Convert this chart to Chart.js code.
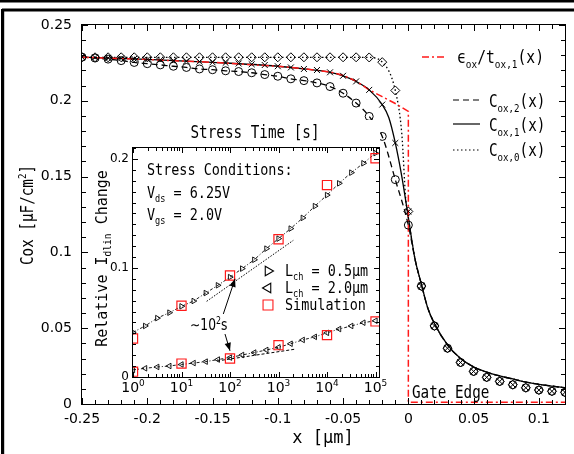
<!DOCTYPE html>
<html><head><meta charset="utf-8">
<script src="https://cdn.jsdelivr.net/npm/chart.js@4.4.1/dist/chart.umd.min.js"></script>
<style>
html,body{margin:0;padding:0;background:#fff;}
#wrap{position:relative;width:574px;height:454px;overflow:hidden;background:#fff;}
#main{position:absolute;left:0;top:0;}
#inset{position:absolute;left:90px;top:120px;}
</style></head><body>
<div id="wrap"><canvas id="main" width="574" height="454"></canvas><canvas id="inset" width="300" height="278"></canvas></div>
<script>
// ---------------- main chart data ----------------
const mainXTicks = [-0.25,-0.2,-0.15,-0.1,-0.05,0,0.05,0.1];
const mainYTicks = [0,0.05,0.1,0.15,0.2,0.25];

const markerX = [-0.25,-0.24,-0.23,-0.22,-0.21,-0.20,-0.19,-0.18,-0.17,-0.16,-0.15,-0.14,-0.13,-0.12,-0.11,-0.10,-0.09,-0.08,-0.07,-0.06,-0.05,-0.04,-0.03,-0.02,-0.01,0,
  0.01,0.02,0.03,0.04,0.05,0.06,0.07,0.08,0.09,0.10,0.11,0.12];
const c2Markers = [0.2288,0.2282,0.2275,0.2265,0.2253,0.2245,0.2237,0.2228,0.2220,0.2210,0.2205,0.2198,0.2193,0.2185,0.2173,0.2162,0.2145,0.2133,0.2118,0.2094,0.2050,0.1985,0.1897,0.1765,0.1480,0.1180,
  0.0778,0.0515,0.0368,0.0274,0.0215,0.0176,0.0149,0.0127,0.0107,0.0092,0.0084,0.0077];
const c1Markers = [0.2288,0.2286,0.2283,0.2280,0.2277,0.2273,0.2270,0.2266,0.2262,0.2258,0.2254,0.2250,0.2246,0.2241,0.2236,0.2228,0.2220,0.2210,0.2203,0.2188,0.2165,0.2128,0.2072,0.1975,0.1722,0.1270,
  0.0778,0.0515,0.0368,0.0274,0.0215,0.0176,0.0149,0.0127,0.0107,0.0092,0.0084,0.0077];
const c0Markers = [0.2287,0.2287,0.2287,0.2287,0.2287,0.2287,0.2287,0.2287,0.2287,0.2287,0.2287,0.2287,0.2287,0.2287,0.2287,0.2287,0.2287,0.2287,0.2287,0.2287,0.2287,0.2287,0.2286,0.2255,0.2068,0.1270,
  0.0778,0.0515,0.0368,0.0274,0.0215,0.0176,0.0149,0.0127,0.0107,0.0092,0.0084,0.0077];

const curveX = [-0.25,-0.2,-0.15,-0.1,-0.08,-0.06,-0.05,-0.04,-0.03,-0.02,-0.015,-0.01,-0.005,0,0.005,0.01,0.015,0.02,0.03,0.04,0.05,0.06,0.07,0.08,0.09,0.1,0.11,0.12];
const c1Curve = [0.2288,0.2273,0.2254,0.2228,0.2210,0.2188,0.2165,0.2128,0.2072,0.1975,0.1890,0.1722,0.1500,0.1230,0.0960,0.0790,0.0630,0.0530,0.0390,0.0300,0.0245,0.0210,0.0185,0.0165,0.0145,0.0130,0.0118,0.0107];

const c0TailX = [-0.005,-0.002];
const c0TailY = [0.1780,0.1350];

const redX = [-0.25,-0.2,-0.15,-0.12,-0.1,-0.08,-0.06,-0.05,-0.04,-0.03,-0.02,-0.01,0,0,0.12];
const redY = [0.2288,0.2272,0.2254,0.2238,0.2228,0.2212,0.2190,0.2168,0.2130,0.2072,0.2027,0.1982,0.1930,0.0012,0.0012];

// ---------------- inset data ----------------
const stressTime = [1,1.778,3.162,5.623,10,17.78,31.62,56.23,100,177.8,316.2,562.3,1000,1778,3162,5623,10000,17780,31620,56230,100000];
const lch05 = [0.0410,0.0468,0.0540,0.0590,0.0648,0.0697,0.0770,0.0841,0.0916,0.0994,0.1075,0.1177,0.1269,0.1361,0.1459,0.1567,0.1668,0.1776,0.1874,0.1960,0.2053];
const lch20 = [0.0065,0.0080,0.0092,0.0101,0.0115,0.0128,0.0141,0.0160,0.0178,0.0202,0.0224,0.0248,0.0272,0.0305,0.0340,0.0368,0.0405,0.0440,0.0468,0.0498,0.0516];
const simTime = [1,10,100,1000,10000,100000];
const sim05 = [0.0353,0.0654,0.0931,0.1263,0.1760,0.2006];
const sim20 = [0.0049,0.0123,0.0169,0.0292,0.0384,0.0510];
const fit05X = [33,2018];
const fit05Y = [0.0694,0.1253];
const fit20X = [54,2188];
const fit20Y = [0.0147,0.0255];
const insetDecades = [0,1,2,3,4,5];
const insetYTicks = [0,0.1,0.2];

// ---------------- helpers ----------------
const RED = '#ff1a1a';
const MONO = 'DejaVu Sans Mono';
const SANS = 'DejaVu Sans';
const CX = 0.84;
const pts = (xs, ys) => xs.map((x, i) => ({x: x, y: ys[i]}));

function richText(ctx, x, y, segs, size, family, sx, align) {
  ctx.save();
  let w = 0;
  const parts = segs.map(s => {
    const fs = (s.sub || s.sup) ? size * 0.64 : size;
    ctx.font = fs + 'px "' + family + '"';
    const m = ctx.measureText(s.t).width * sx;
    const dy = s.sub ? size * 0.28 : (s.sup ? -size * 0.42 : 0);
    w += m;
    return {t: s.t, fs: fs, w: m, dy: dy};
  });
  let cx = align === 'center' ? x - w / 2 : (align === 'right' ? x - w : x);
  ctx.textAlign = 'left'; ctx.textBaseline = 'alphabetic'; ctx.fillStyle = '#000';
  for (const p of parts) {
    ctx.save();
    ctx.font = p.fs + 'px "' + family + '"';
    ctx.translate(cx, y + p.dy); ctx.scale(sx, 1);
    ctx.fillText(p.t, 0, 0);
    ctx.restore();
    cx += p.w;
  }
  ctx.restore();
  return w;
}
function seg(ctx, x1, y1, x2, y2) { ctx.beginPath(); ctx.moveTo(x1, y1); ctx.lineTo(x2, y2); ctx.stroke(); }
function arrow(ctx, x1, y1, x2, y2) {
  seg(ctx, x1, y1, x2, y2);
  const a = Math.atan2(y2 - y1, x2 - x1), L = 8, H = 3.2;
  ctx.beginPath();
  ctx.moveTo(x2, y2);
  ctx.lineTo(x2 - L * Math.cos(a) + H * Math.sin(a), y2 - L * Math.sin(a) - H * Math.cos(a));
  ctx.lineTo(x2 - L * Math.cos(a) - H * Math.sin(a), y2 - L * Math.sin(a) + H * Math.cos(a));
  ctx.closePath(); ctx.fill();
}
function marker(ctx, style, rot, r, x, y, color) {
  ctx.save(); ctx.strokeStyle = color; ctx.fillStyle = 'rgba(0,0,0,0)'; ctx.lineWidth = 1.1;
  Chart.helpers.drawPoint(ctx, {pointStyle: style, rotation: rot, radius: r, borderWidth: 1.1}, x, y);
  ctx.restore();
}

// ---------------- main chart ----------------
const lineC1 = pts(curveX, c1Curve);
const lineC2 = pts(markerX.filter(x => x <= 0), c2Markers.slice(0, 26)).concat(lineC1.filter(p => p.x > 0));
const lineC0 = pts(markerX.filter(x => x <= -0.01), c0Markers.slice(0, 25)).concat(pts(c0TailX, c0TailY)).concat(lineC1.filter(p => p.x >= 0));

const mainDecor = {
  id: 'mainDecor',
  afterDraw(chart) {
    const ctx = chart.ctx, a = chart.chartArea, xs = chart.scales.x, ys = chart.scales.y;
    ctx.save();
    ctx.strokeStyle = '#000'; ctx.fillStyle = '#000'; ctx.lineWidth = 1;
    const L = Math.round(a.left), R = Math.round(a.right), T = Math.round(a.top), B = Math.round(a.bottom);
    ctx.strokeRect(L - 0.5, T - 0.5, R - L + 1, B - T + 1);
    for (let i = 0; i <= 37; i++) {
      const v = -0.25 + i * 0.01;
      const major = mainXTicks.some(t => Math.abs(t - v) < 1e-6);
      const len = major ? 6 : 4;
      const px = Math.round(xs.getPixelForValue(v)) + 0.5;
      seg(ctx, px, B, px, B - len); seg(ctx, px, T, px, T + len);
    }
    for (let i = 0; i <= 25; i++) {
      const v = i * 0.01;
      const major = mainYTicks.some(t => Math.abs(t - v) < 1e-6);
      const len = major ? 6 : 4;
      const py = Math.round(ys.getPixelForValue(v)) + 0.5;
      seg(ctx, L, py, L + len, py); seg(ctx, R, py, R - len, py);
    }
    // axis titles
    richText(ctx, 323, 443, [{t: 'x [μm]'}], 17, MONO, 1, 'center');
    ctx.save(); ctx.translate(33, 215); ctx.rotate(-Math.PI / 2);
    richText(ctx, 0, 0, [{t: 'Cox [μF/cm'}, {t: '2', sup: true}, {t: ']'}], 17, MONO, CX, 'center');
    ctx.restore();
    richText(ctx, 412, 398, [{t: 'Gate Edge'}], 17, MONO, CX, 'left');
    // legend
    ctx.lineWidth = 1.5; ctx.strokeStyle = RED; ctx.setLineDash([7, 3, 2, 3]);
    seg(ctx, 422, 57, 447, 57);
    ctx.strokeStyle = '#000'; ctx.lineWidth = 1.2;
    ctx.setLineDash([6, 4]); seg(ctx, 453, 100, 480, 100);
    ctx.setLineDash([]); seg(ctx, 453, 124, 480, 124);
    ctx.setLineDash([1.5, 2.5]); seg(ctx, 453, 150, 480, 150);
    ctx.setLineDash([]);
    richText(ctx, 457, 63, [{t: 'ϵ'}, {t: 'ox', sub: true}, {t: '/t'}, {t: 'ox,1', sub: true}, {t: '(x)'}], 17.5, MONO, CX, 'left');
    richText(ctx, 489, 107, [{t: 'C'}, {t: 'ox,2', sub: true}, {t: '(x)'}], 17, MONO, CX, 'left');
    richText(ctx, 489, 131, [{t: 'C'}, {t: 'ox,1', sub: true}, {t: '(x)'}], 17, MONO, CX, 'left');
    richText(ctx, 489, 156, [{t: 'C'}, {t: 'ox,0', sub: true}, {t: '(x)'}], 17, MONO, CX, 'left');
    // outer frame
    ctx.fillRect(0, 0, 574, 2.5);
    ctx.fillRect(2, 8.5, 572, 3);
    ctx.fillRect(1, 9, 3.2, 445);
    ctx.restore();
  }
};

new Chart(document.getElementById('main'), {
  type: 'scatter',
  data: {
    datasets: [
      {data: pts(markerX, c0Markers), pointStyle: 'rectRot', pointRadius: 4.5, borderColor: '#000', backgroundColor: 'rgba(0,0,0,0)', pointBorderWidth: 1, showLine: false, clip: 0, order: 1},
      {data: pts(markerX, c1Markers), pointStyle: 'crossRot', pointRadius: 4.2, borderColor: '#000', backgroundColor: 'rgba(0,0,0,0)', pointBorderWidth: 1, showLine: false, clip: 0, order: 1},
      {data: pts(markerX, c2Markers), pointStyle: 'circle', pointRadius: 4, borderColor: '#000', backgroundColor: 'rgba(0,0,0,0)', pointBorderWidth: 1, showLine: false, clip: 0, order: 1},
      {data: pts(redX, redY), showLine: true, borderColor: RED, borderWidth: 1.5, borderDash: [7, 3, 2, 3], pointRadius: 0, tension: 0, order: 2},
      {data: lineC0, showLine: true, borderColor: '#000', borderWidth: 1.3, borderDash: [1.5, 2.5], pointRadius: 0, cubicInterpolationMode: 'monotone', order: 3},
      {data: lineC1, showLine: true, borderColor: '#000', borderWidth: 1.3, pointRadius: 0, cubicInterpolationMode: 'monotone', order: 3},
      {data: lineC2, showLine: true, borderColor: '#000', borderWidth: 1.3, borderDash: [6, 4], pointRadius: 0, cubicInterpolationMode: 'monotone', order: 3}
    ]
  },
  options: {
    responsive: false, animation: false, devicePixelRatio: 1,
    layout: {padding: {top: 25, right: 9, left: 0, bottom: 0}},
    plugins: {legend: {display: false}, tooltip: {enabled: false}},
    scales: {
      x: {type: 'linear', min: -0.25, max: 0.12,
        afterFit: s => { s.height = 50; },
        grid: {display: false, drawTicks: false}, border: {display: false},
        ticks: {stepSize: 0.05, includeBounds: false, autoSkip: false, maxRotation: 0, padding: 7, color: '#000',
          font: {family: SANS, size: 14}, callback: v => String(Math.round(v * 1000) / 1000)}},
      y: {type: 'linear', min: 0, max: 0.25,
        afterFit: s => { s.width = 82; },
        grid: {display: false, drawTicks: false}, border: {display: false},
        ticks: {stepSize: 0.05, includeBounds: false, padding: 10, color: '#000',
          font: {family: SANS, size: 14}, callback: v => String(Math.round(v * 1000) / 1000)}}
    }
  },
  plugins: [mainDecor]
});

// ---------------- inset chart ----------------
const insetDecor = {
  id: 'insetDecor',
  beforeDraw(chart) {
    const ctx = chart.ctx, a = chart.chartArea;
    ctx.save(); ctx.fillStyle = '#fff'; ctx.fillRect(0, 0, Math.round(a.right) + 1, chart.height); ctx.restore();
  },
  afterDraw(chart) {
    const ctx = chart.ctx, a = chart.chartArea, xs = chart.scales.x, ys = chart.scales.y;
    ctx.save();
    ctx.strokeStyle = '#000'; ctx.fillStyle = '#000'; ctx.lineWidth = 1;
    const L = Math.round(a.left), R = Math.round(a.right), T = Math.round(a.top), B = Math.round(a.bottom);
    ctx.strokeRect(L - 0.5, T - 0.5, R - L + 1, B - T + 1);
    for (const d of insetDecades) {
      for (let k = 1; k <= 9; k++) {
        const v = k * Math.pow(10, d);
        if (v > xs.max) continue;
        const len = k === 1 ? 5 : 3;
        const px = Math.round(xs.getPixelForValue(v)) + 0.5;
        seg(ctx, px, B, px, B - len); seg(ctx, px, T, px, T + len);
      }
    }
    for (let i = 0; i <= 21; i++) {
      const v = i * 0.01;
      const major = insetYTicks.some(t => Math.abs(t - v) < 1e-6);
      const len = major ? 5 : 3;
      const py = Math.round(ys.getPixelForValue(v)) + 0.5;
      seg(ctx, L, py, L + len, py); seg(ctx, R, py, R - len, py);
    }
    for (const d of insetDecades) {
      const px = xs.getPixelForValue(Math.pow(10, d));
      richText(ctx, px, 272, [{t: '10'}, {t: String(d), sup: true}], 14, SANS, 1, 'center');
    }
    richText(ctx, 165, 18, [{t: 'Stress Time [s]'}], 17, MONO, CX, 'center');
    ctx.save(); ctx.translate(17, 138.5); ctx.rotate(-Math.PI / 2);
    richText(ctx, 0, 0, [{t: 'Relative I'}, {t: 'dlin', sub: true}, {t: ' Change'}], 15, MONO, 1, 'center');
    ctx.restore();
    richText(ctx, 57, 55, [{t: 'Stress Conditions:'}], 16, MONO, CX, 'left');
    richText(ctx, 57, 78, [{t: 'V'}, {t: 'ds', sub: true}, {t: ' = 6.25V'}], 16, MONO, CX, 'left');
    richText(ctx, 57, 100, [{t: 'V'}, {t: 'gs', sub: true}, {t: ' = 2.0V'}], 16, MONO, CX, 'left');
    marker(ctx, 'triangle', 90, 5.5, 178, 151, '#000');
    marker(ctx, 'triangle', -90, 5.5, 178, 168, '#000');
    marker(ctx, 'rect', 0, 7, 178, 185, RED);
    richText(ctx, 195, 156, [{t: 'L'}, {t: 'ch', sub: true}, {t: ' = 0.5μm'}], 16, MONO, CX, 'left');
    richText(ctx, 195, 173, [{t: 'L'}, {t: 'ch', sub: true}, {t: ' = 2.0μm'}], 16, MONO, CX, 'left');
    richText(ctx, 195, 190, [{t: 'Simulation'}], 16, MONO, CX, 'left');
    richText(ctx, 100, 210, [{t: '∼10'}, {t: '2', sup: true}, {t: 's'}], 15, SANS, 0.82, 'left');
    ctx.lineWidth = 1;
    arrow(ctx, xs.getPixelForValue(72.8), ys.getPixelForValue(0.0578), xs.getPixelForValue(127), ys.getPixelForValue(0.090));
    arrow(ctx, xs.getPixelForValue(78.9), ys.getPixelForValue(0.0394), xs.getPixelForValue(100), ys.getPixelForValue(0.024));
    ctx.restore();
  }
};

new Chart(document.getElementById('inset'), {
  type: 'scatter',
  data: {
    datasets: [
      {data: pts(simTime, sim05), pointStyle: 'rect', pointRadius: 6.5, borderColor: RED, backgroundColor: 'rgba(0,0,0,0)', pointBorderWidth: 1.2, showLine: false, clip: 0},
      {data: pts(simTime, sim20), pointStyle: 'rect', pointRadius: 6.5, borderColor: RED, backgroundColor: 'rgba(0,0,0,0)', pointBorderWidth: 1.2, showLine: false, clip: 0},
      {data: pts(stressTime, lch05), showLine: true, borderColor: '#000', borderWidth: 0.9, borderDash: [3, 2, 1, 2], pointStyle: 'triangle', pointRotation: 90, pointRadius: 3.2, pointBorderWidth: 0.9, backgroundColor: 'rgba(0,0,0,0)', clip: 0},
      {data: pts(stressTime, lch20), showLine: true, borderColor: '#000', borderWidth: 0.9, borderDash: [3, 2, 1, 2], pointStyle: 'triangle', pointRotation: -90, pointRadius: 3.2, pointBorderWidth: 0.9, backgroundColor: 'rgba(0,0,0,0)', clip: 0},
      {data: pts(fit05X, fit05Y), showLine: true, borderColor: '#000', borderWidth: 1, borderDash: [1.5, 1.5], pointRadius: 0},
      {data: pts(fit20X, fit20Y), showLine: true, borderColor: '#000', borderWidth: 1, borderDash: [3, 2], pointRadius: 0}
    ]
  },
  options: {
    responsive: false, animation: false, devicePixelRatio: 1,
    layout: {padding: {top: 28, right: 11, left: 0, bottom: 0}},
    plugins: {legend: {display: false}, tooltip: {enabled: false}},
    scales: {
      x: {type: 'logarithmic', min: 1, max: 118000,
        afterFit: s => { s.height = 21; },
        grid: {display: false, drawTicks: false}, border: {display: false},
        ticks: {display: false}},
      y: {type: 'linear', min: 0, max: 0.21,
        afterFit: s => { s.width = 43; },
        grid: {display: false, drawTicks: false}, border: {display: false},
        ticks: {stepSize: 0.1, includeBounds: false, padding: 4, color: '#000',
          font: {family: SANS, size: 12}, callback: v => String(Math.round(v * 10) / 10)}}
    }
  },
  plugins: [insetDecor]
});
</script>
</body></html>
